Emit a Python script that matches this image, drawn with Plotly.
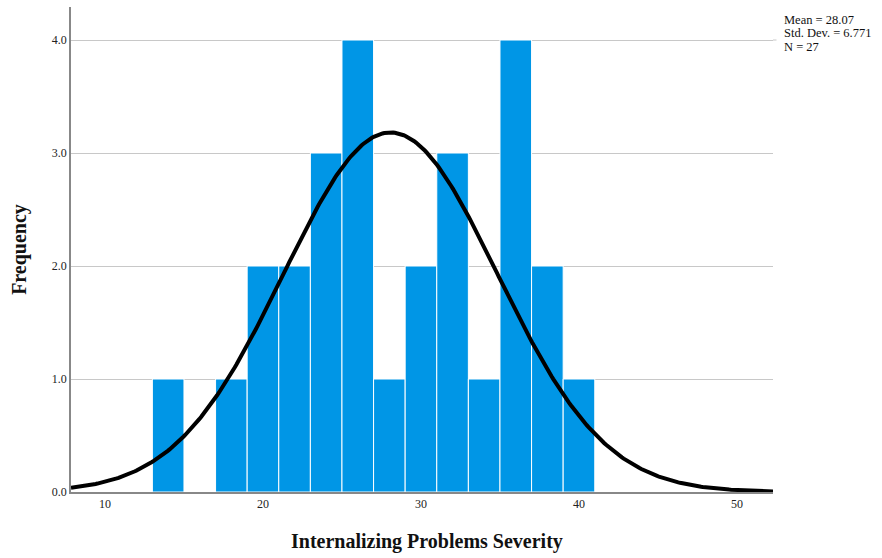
import numpy as np
import plotly.graph_objects as go

bin_left = [13, 17, 19, 21, 23, 25, 27, 29, 31, 33, 35, 37, 39]
counts = [1, 1, 2, 2, 3, 4, 1, 2, 3, 1, 4, 2, 1]
bin_width = 2
mean, sd, n = 28.07, 6.771, 27
x_ticks = [10, 20, 30, 40, 50]
y_ticks = [0, 1, 2, 3, 4]

centers = [b + bin_width / 2 for b in bin_left]

xs = np.linspace(7.85, 52.3, 400)
ys = n * bin_width / (sd * np.sqrt(2 * np.pi)) * np.exp(-0.5 * ((xs - mean) / sd) ** 2)

fig = go.Figure()
fig.add_trace(go.Bar(x=centers, y=counts, width=bin_width,
                     marker=dict(color="#0096e6", line=dict(color="white", width=1)),
                     hoverinfo="skip"))
fig.add_trace(go.Scatter(x=xs, y=ys, mode="lines", line=dict(color="black", width=4),
                         hoverinfo="skip"))

font_family = "Liberation Serif"
stat_lines = [f"Mean = {mean:.2f}", f"Std. Dev. = {sd:.3f}", f"N = {n}"]
annotations = []
for i, t in enumerate(stat_lines):
    ypix = 19.5 + i * 13.5
    annotations.append(dict(xref="paper", yref="paper", x=1.013, y=(492 - ypix) / 485,
                            xanchor="left", yanchor="middle", align="left", showarrow=False,
                            text=t, font=dict(size=12.5, family=font_family, color="#111")))
annotations.append(dict(xref="paper", yref="paper", x=0.5, xshift=5, y=(492 - 541) / 485,
                        xanchor="center", yanchor="middle", showarrow=False,
                        text="<b>Internalizing Problems Severity</b>",
                        font=dict(size=20, family=font_family, color="#111")))

fig.update_layout(
    width=882, height=558,
    margin=dict(l=71, r=109, t=7, b=66),
    paper_bgcolor="white", plot_bgcolor="white",
    showlegend=False,
    font=dict(family=font_family, color="#222"),
    xaxis=dict(range=[7.85, 52.28], tickvals=x_ticks, ticktext=[str(v) for v in x_ticks],
               showgrid=False, zeroline=False, showline=True, linecolor="#888", linewidth=1.5,
               ticks="", tickfont=dict(size=12, family=font_family, color="#222")),
    yaxis=dict(range=[0, 4.292], tickvals=y_ticks, ticktext=[f"{v:.1f}" for v in y_ticks],
               showgrid=True, gridcolor="#c8c8c8", gridwidth=1, zeroline=False,
               showline=True, linecolor="#888", linewidth=1.5, ticks="",
               tickfont=dict(size=12, family=font_family, color="#222"),
               title=dict(text="<b>Frequency</b>", font=dict(size=20, family=font_family, color="#111"),
                          standoff=20)),
    annotations=annotations,
)
fig.add_shape(type="line", xref="paper", yref="y", x0=1.0, x1=1.005, y0=4, y1=4,
              line=dict(color="#c8c8c8", width=1))

fig.write_html("out.html")
